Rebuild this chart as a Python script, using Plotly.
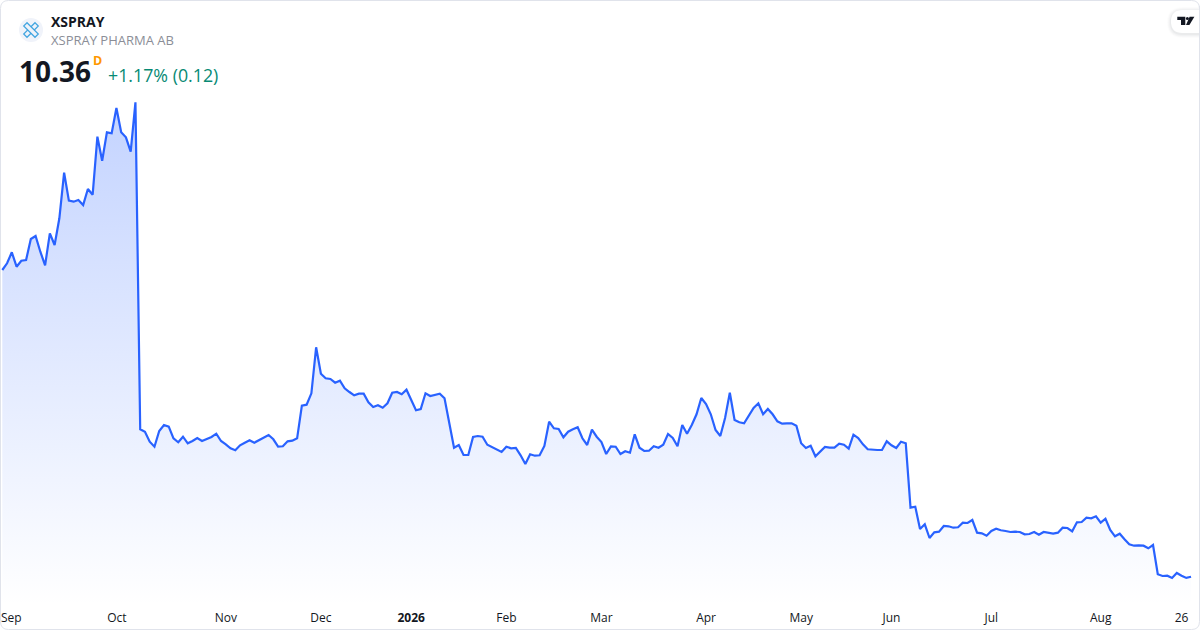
import plotly.graph_objects as go

WIDTH = 1200
HEIGHT = 630
PLOT_H = 606

prices = [
    41.03, 41.70, 42.80, 41.36, 41.96, 42.03, 44.13, 44.43, 42.86, 41.50,
    44.70, 43.53, 46.20, 50.76, 47.96, 47.86, 48.03, 47.53, 49.13, 48.56,
    54.36, 51.96, 54.80, 54.70, 57.23, 54.80, 54.30, 52.86, 57.80,
    25.10, 24.86, 23.86, 23.36, 24.93, 25.53, 25.36, 24.20, 23.80, 24.36,
    23.70, 23.93, 24.23, 23.93, 24.13, 24.33, 24.66, 23.93, 23.60, 23.20,
    23.00, 23.50, 23.76, 24.00, 23.76, 24.03, 24.30, 24.53, 24.10, 23.36,
    23.40, 23.90, 23.96, 24.20, 27.46, 27.56, 28.70, 33.30, 30.66, 30.20,
    30.13, 29.76, 29.96, 29.20, 28.83, 28.50, 28.66, 28.66, 27.80, 27.33,
    27.50, 27.26, 27.70, 28.76, 28.83, 28.60, 29.06, 28.10, 27.00, 27.13,
    28.70, 28.43, 28.56, 28.66, 28.20, 25.70, 23.26, 23.53, 22.53, 22.53,
    24.33, 24.43, 24.36, 23.56, 23.33, 23.10, 22.83, 23.36, 23.20, 23.23,
    22.50, 21.63, 22.60, 22.46, 22.50, 23.43, 25.86, 25.20, 25.13, 24.30,
    24.86, 25.10, 25.30, 24.20, 23.53, 25.06, 24.36, 23.83, 22.63, 23.40,
    23.36, 22.63, 22.90, 22.76, 24.60, 23.26, 22.93, 22.96, 23.40, 23.26,
    23.56, 24.63, 24.23, 23.40, 25.53, 24.66, 25.53, 26.60, 28.23, 27.63,
    26.60, 25.03, 24.43, 26.23, 28.76, 26.03, 25.80, 25.70, 26.43, 27.23,
    27.70, 26.60, 27.13, 26.60, 25.90, 25.66, 25.70, 25.70, 25.46,
    23.70, 23.23, 23.46, 22.40, 22.83, 23.33, 23.26, 23.26, 23.66, 23.56,
    23.16, 24.56, 24.23, 23.60, 23.10, 23.03, 23.03, 23.03, 23.90, 23.50,
    23.23, 23.86, 23.70, 17.26, 17.36, 15.13, 15.60, 14.23, 14.80, 14.86,
    15.43, 15.40, 15.26, 15.30, 15.76, 15.73, 16.03, 14.76, 14.70, 14.46,
    14.93, 15.16, 15.00, 14.93, 14.83, 14.86, 14.83, 14.60, 14.63, 14.83,
    14.56, 14.83, 14.73, 14.66, 14.76, 15.26, 15.23, 14.90, 15.80, 15.83,
    16.26, 16.20, 16.40, 15.76, 16.16, 15.03, 14.40, 14.66, 14.10, 13.60,
    13.46, 13.50, 13.46, 13.20, 13.53, 10.60, 10.43, 10.46, 10.23, 10.73,
    10.46, 10.24, 10.36,
]
days = list(range(len(prices)))

tick_days = [1.9, 24.1, 47, 67, 86, 106, 126, 148, 168, 187, 208, 231, 248]
tick_labels = ["Sep", "Oct", "Nov", "Dec", "<b>2026</b>", "Feb", "Mar", "Apr", "May", "Jun", "Jul", "Aug", "26"]

y_range = [7.43, 68.03]
x_range = [-0.484, 251.88]

BLUE = "#2962ff"


# page pixels to paper coords
def px(x):
    return x / WIDTH


def py(y):
    return 1 - y / PLOT_H


def path(points):
    return " ".join(f"{c}{px(x):.5f},{py(y):.5f}" if c != "Z" else "Z" for c, x, y in points)


def rounded(x0, y0, x1, y1, r):
    return (f"M{px(x0 + r):.5f},{py(y0):.5f} L{px(x1 - r):.5f},{py(y0):.5f} "
            f"Q{px(x1):.5f},{py(y0):.5f} {px(x1):.5f},{py(y0 + r):.5f} "
            f"L{px(x1):.5f},{py(y1 - r):.5f} Q{px(x1):.5f},{py(y1):.5f} {px(x1 - r):.5f},{py(y1):.5f} "
            f"L{px(x0 + r):.5f},{py(y1):.5f} Q{px(x0):.5f},{py(y1):.5f} {px(x0):.5f},{py(y1 - r):.5f} "
            f"L{px(x0):.5f},{py(y0 + r):.5f} Q{px(x0):.5f},{py(y0):.5f} {px(x0 + r):.5f},{py(y0):.5f} Z")


def paper_line(x0, y0, x1, y1, color, width):
    return dict(type="line", xref="paper", yref="paper", x0=px(x0), y0=py(y0), x1=px(x1), y1=py(y1),
                line=dict(color=color, width=width))


fig = go.Figure()

# invisible floor so the area stops above the date labels
fig.add_trace(go.Scatter(x=[days[0], days[-1]], y=[y_range[0], y_range[0]], mode="lines",
                         line=dict(width=0), hoverinfo="skip", showlegend=False))
fig.add_trace(go.Scatter(
    x=days, y=prices, mode="lines", fill="tonexty",
    line=dict(color=BLUE, width=2.2),
    fillgradient=dict(type="vertical", start=57.8, stop=y_range[0],
                      colorscale=[[0, "rgba(41,98,255,0.28)"], [1, "rgba(41,98,255,0)"]]),
    hoverinfo="skip", showlegend=False,
))

shapes = []
# card border
shapes.append(dict(type="path", xref="paper", yref="paper", path=rounded(0.5, 0.5, 1199.5, 629.5, 8),
                   line=dict(color="#e0e3eb", width=1)))

# logo badge, two crossed pills
shapes.append(dict(type="circle", xref="paper", yref="paper", x0=px(19), x1=px(43), y0=py(42), y1=py(18),
                   fillcolor="#f0f3fa", line=dict(width=0)))
shapes.append(dict(type="path", xref="paper", yref="paper",
                   path=path([("M", 35.0, 22.7), ("L", 38.3, 26.0), ("L", 27.0, 37.3), ("L", 23.7, 34.0), ("Z", 0, 0)]),
                   fillcolor="#f0f3fa", line=dict(color="#42a5e0", width=1.2)))
shapes.append(dict(type="path", xref="paper", yref="paper",
                   path=path([("M", 27.0, 22.7), ("L", 23.7, 26.0), ("L", 35.0, 37.3), ("L", 38.3, 34.0), ("Z", 0, 0)]),
                   fillcolor="#f0f3fa", line=dict(color="#42a5e0", width=1.2)))

# TradingView badge with a soft shadow
for grow, alpha in [(4, 0.012), (3, 0.018), (2, 0.025), (1, 0.03)]:
    shapes.append(dict(type="path", xref="paper", yref="paper",
                       path=rounded(1171 - grow, 10 - grow + 1, 1215, 33 + grow + 1, 11.5 + grow),
                       fillcolor=f"rgba(19,23,34,{alpha})", line=dict(width=0)))
shapes.append(dict(type="path", xref="paper", yref="paper", path=rounded(1171, 10, 1215, 33, 11.5),
                   fillcolor="#ffffff", line=dict(width=0)))
shapes.append(paper_line(1199.5, 6, 1199.5, 38, "#e0e3eb", 1))
shapes.append(dict(type="path", xref="paper", yref="paper",
                   path=path([("M", 1177.3, 16.7), ("L", 1185.3, 16.7), ("L", 1185.3, 25), ("L", 1181, 25),
                              ("L", 1181, 20), ("L", 1177.3, 20), ("Z", 0, 0)]),
                   fillcolor="#131722", line=dict(width=0)))
shapes.append(dict(type="circle", xref="paper", yref="paper", x0=px(1185.9), x1=px(1188.9), y0=py(20), y1=py(17),
                   fillcolor="#131722", line=dict(width=0)))
shapes.append(dict(type="path", xref="paper", yref="paper",
                   path=path([("M", 1189.6, 16.7), ("L", 1194.4, 16.7), ("L", 1189.4, 25), ("L", 1186, 25), ("Z", 0, 0)]),
                   fillcolor="#131722", line=dict(width=0)))


def label(text, x, y, size, color, family="Open Sans"):
    return dict(text=text, xref="paper", yref="paper", x=px(x), y=py(y), xanchor="left", yanchor="middle",
                showarrow=False, font=dict(family=family, size=size, color=color))


annotations = [
    label("<b>XSPRAY</b>", 49, 21, 14, "#131722"),
    label("XSPRAY PHARMA AB", 49, 40, 13, "#8b8e97"),
    label("<b>10.36</b>", 17, 71, 28, "#131722"),
    label("<b>D</b>", 91, 61, 12.5, "#ff9800"),
    label("+1.17% (0.12)", 106, 75, 17.8, "#078a74"),
]

fig.update_layout(
    width=WIDTH, height=HEIGHT,
    margin=dict(l=0, r=0, t=0, b=HEIGHT - PLOT_H),
    paper_bgcolor="#ffffff", plot_bgcolor="#ffffff",
    font=dict(family="Open Sans", size=12, color="#131722"),
    shapes=shapes, annotations=annotations, showlegend=False,
    xaxis=dict(range=x_range, tickmode="array", tickvals=tick_days, ticktext=tick_labels,
               showgrid=False, zeroline=False, showline=False, ticks="", ticklabelstandoff=3,
               tickfont=dict(family="Open Sans", size=12, color="#131722")),
    yaxis=dict(range=y_range, visible=False, showgrid=False, zeroline=False),
)

fig.write_html("out.html", config=dict(displayModeBar=False),
               post_script="document.body.style.margin='0';document.body.style.overflow='hidden';")
